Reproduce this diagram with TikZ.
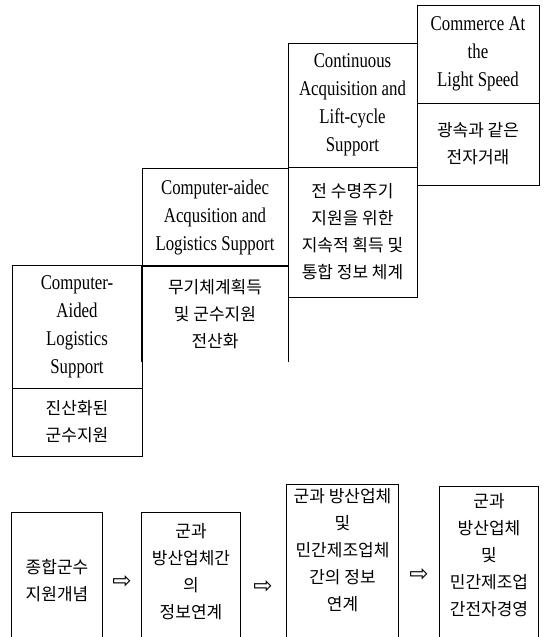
\documentclass[tikz,border=0pt]{standalone}
\usepackage{fontspec}
\newfontfamily\engfont[FakeStretch=0.8]{Liberation Serif}
\newfontfamily\korfont{Noto Sans CJK KR}
\newfontfamily\symfont{DejaVu Sans}
\tikzset{
  cell/.style={inner sep=0pt, line width=0.8pt},
  closedcell/.style={cell, draw},
  eng/.style={font=\engfont\fontsize{21}{28}\selectfont, align=center},
  kor/.style={font=\korfont\fontsize{17}{27}\selectfont, align=center},
  arrowglyph/.style={inner sep=0pt, font=\symfont\fontsize{23}{23}\selectfont},
  edge/.style={line width=0.8pt}
}
\begin{document}
\begin{tikzpicture}[x=1pt,y=-1pt]
\useasboundingbox[fill=white] (0,0) rectangle (545,637);
% staircase, column 1
\node[closedcell, eng, minimum width=130pt, minimum height=123pt] (c1t) at (77,326.5)
  {Computer-\\Aided\\Logistics\\Support};
\node[closedcell, kor, minimum width=130pt, minimum height=68pt] (c1b) at (77,422)
  {진산화된\\군수지원};
% column 2
\node[closedcell, eng, minimum width=146pt, minimum height=98pt] (c2t) at (215,217)
  {Computer-aidec\\Acqusition and\\Logistics Support};
\node[cell, kor, minimum width=146pt, minimum height=96pt] (c2b) at (215,314)
  {무기체계획득\\및 군수지원\\전산화};
\draw[edge] (c2b.south west) -- (c2b.north west) -- (c2b.north east) -- (c2b.south east);
% column 3
\node[closedcell, eng, minimum width=129pt, minimum height=124pt] (c3t) at (352.5,105)
  {Continuous\\Acquisition and\\Lift-cycle\\Support};
\node[closedcell, kor, minimum width=129pt, minimum height=130pt] (c3b) at (352.5,232)
  {전 수명주기\\지원을 위한\\지속적 획득 및\\통합 정보 체계};
% column 4
\node[closedcell, eng, minimum width=122pt, minimum height=98pt] (c4t) at (478,54)
  {Commerce At\\the\\Light Speed};
\node[closedcell, kor, minimum width=122pt, minimum height=82pt] (c4b) at (478,144)
  {광속과 같은\\전자거래};
% bottom row
\node[cell, kor, minimum width=90pt, minimum height=124pt] (b1) at (57,575) {};
\node[kor] (b1t) at (57,581) {종합군수\\지원개념};
\node[cell, kor, minimum width=98pt, minimum height=124pt] (b2) at (191,575) {};
\node[kor] (b2t) at (191,572) {군과\\방산업체간\\의\\정보연계};
\node[cell, kor, minimum width=111pt, minimum height=152pt] (b3) at (342.5,561) {};
\node[kor] (b3t) at (342.5,550) {군과 방산업체\\및\\민간제조업체\\간의 정보\\연계};
\node[cell, kor, minimum width=98pt, minimum height=150pt] (b4) at (489,562) {};
\node[kor] (b4t) at (489,555) {군과\\방산업체\\및\\민간제조업\\간전자경영};
\foreach \b in {b1,b2,b3,b4}{
  \draw[edge] (\b.south west) -- (\b.north west) -- (\b.north east) -- (\b.south east);
}
\node[arrowglyph] (a1) at (122,582) {⇨};
\node[arrowglyph] (a2) at (263,587) {⇨};
\node[arrowglyph] (a3) at (419,575) {⇨};
\end{tikzpicture}
\end{document}
